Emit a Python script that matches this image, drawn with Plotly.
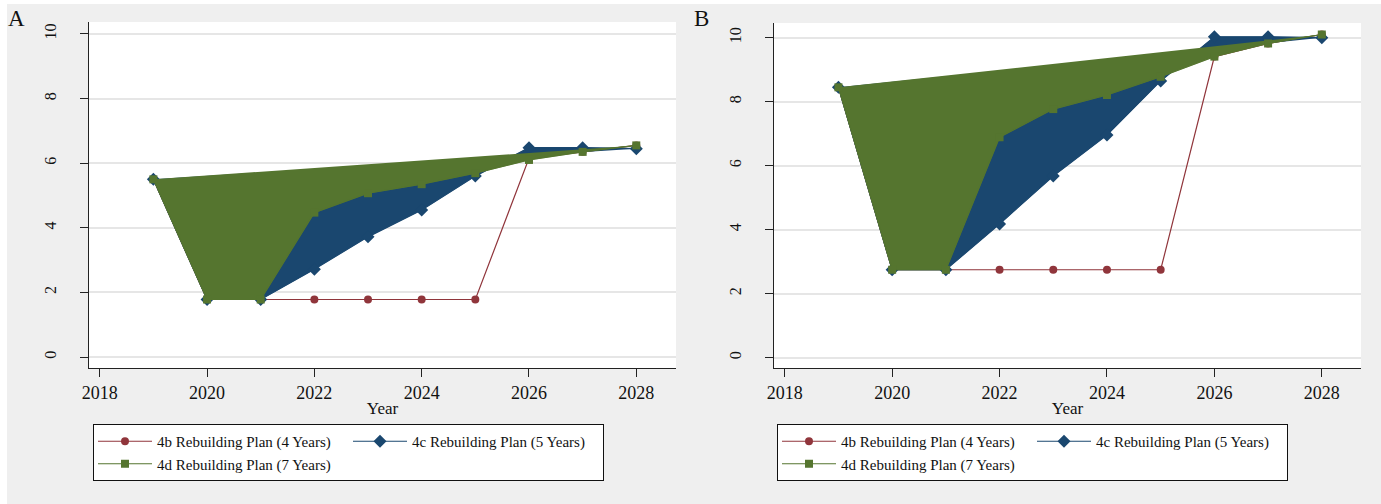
import plotly.graph_objects as go

# Years on the horizontal axis
years = [2019, 2020, 2021, 2022, 2023, 2024, 2025, 2026, 2027, 2028]

# Panel A trajectories
a_plan_4b = [5.5, 1.78, 1.78, 1.78, 1.78, 1.78, 1.78, 6.15, 6.35, 6.55]
a_plan_4c = [5.5, 1.78, 1.78, 2.72, 3.72, 4.55, 5.6, 6.48, 6.48, 6.45]
a_plan_4d = [5.5, 1.78, 1.78, 4.47, 5.07, 5.35, 5.69, 6.1, 6.35, 6.55]

# Panel B trajectories
b_plan_4b = [8.45, 2.75, 2.75, 2.75, 2.75, 2.75, 2.75, 9.41, 9.82, 10.1]
b_plan_4c = [8.45, 2.75, 2.75, 4.18, 5.68, 6.96, 8.65, 10.03, 10.03, 10.0]
b_plan_4d = [8.45, 2.75, 2.75, 6.89, 7.77, 8.21, 8.78, 9.41, 9.82, 10.1]

names = ["4b Rebuilding Plan (4 Years)",
         "4c Rebuilding Plan (5 Years)",
         "4d Rebuilding Plan (7 Years)"]
panel_labels = ["A", "B"]
x_ticks = [2018, 2020, 2022, 2024, 2026, 2028]
y_ticks = [0, 2, 4, 6, 8, 10]

RED = "#90353b"
BLUE = "#1a476f"
GREEN = "#55752f"
BG = "#efefef"
FONT = "Liberation Serif"

W, H = 1381, 504

fig = go.Figure()


def add_panel(xa, ya, legend, s4b, s4c, s4d):
    # 4b: line with circles, no fill
    fig.add_trace(go.Scatter(
        x=years, y=s4b, mode="lines+markers", name=names[0],
        line=dict(color=RED, width=1.2),
        marker=dict(symbol="circle", size=8, color=RED),
        xaxis=xa, yaxis=ya, legend=legend, legendgroup=legend + "c1"))
    # 4c: area closed back to the first point, then line with diamonds
    fig.add_trace(go.Scatter(
        x=years, y=s4c, mode="lines", fill="toself", fillcolor=BLUE,
        line=dict(color=BLUE, width=0.5), showlegend=False,
        hoverinfo="skip", xaxis=xa, yaxis=ya))
    fig.add_trace(go.Scatter(
        x=years, y=s4c, mode="lines+markers", name=names[1],
        line=dict(color=BLUE, width=1.2),
        marker=dict(symbol="diamond", size=10, color=BLUE),
        xaxis=xa, yaxis=ya, legend=legend, legendgroup=legend + "c2"))
    # 4d: area closed back to the first point, then line with squares
    fig.add_trace(go.Scatter(
        x=years, y=s4d, mode="lines", fill="toself", fillcolor=GREEN,
        line=dict(color=GREEN, width=0.5), showlegend=False,
        hoverinfo="skip", xaxis=xa, yaxis=ya))
    fig.add_trace(go.Scatter(
        x=years, y=s4d, mode="lines+markers", name=names[2],
        line=dict(color=GREEN, width=1.2),
        marker=dict(symbol="square", size=8, color=GREEN),
        xaxis=xa, yaxis=ya, legend=legend, legendgroup=legend + "c1"))


add_panel("x", "y", "legend", a_plan_4b, a_plan_4c, a_plan_4d)
add_panel("x2", "y2", "legend2", b_plan_4b, b_plan_4c, b_plan_4d)

xaxis_common = dict(
    tickmode="array", tickvals=x_ticks, ticks="outside", ticklen=8,
    tickcolor="#222", showline=True, linecolor="#222", linewidth=1,
    showgrid=False, zeroline=False, automargin=False,
    tickfont=dict(family=FONT, size=18, color="#111"),
    title=dict(text="Year", font=dict(family=FONT, size=17, color="#111"),
               standoff=0),
)
yaxis_common = dict(
    tickmode="array", tickvals=y_ticks, ticks="outside", ticklen=8,
    tickcolor="#222", showline=True, linecolor="#222", linewidth=1,
    showgrid=True, gridcolor="#e6e6e6", gridwidth=1.5, zeroline=False,
    automargin=False, tickangle=-90, ticklabelstandoff=18,
    tickfont=dict(family=FONT, size=16, color="#111"),
)

legend_common = dict(
    orientation="h", traceorder="grouped", xanchor="left", yanchor="top",
    bgcolor="white", bordercolor="#111", borderwidth=1,
    font=dict(family=FONT, size=15, color="#111"),
    itemwidth=54, entrywidth=186, itemclick=False, itemdoubleclick=False,
)

fig.update_layout(
    width=W, height=H,
    margin=dict(l=0, r=0, t=0, b=0, autoexpand=False),
    paper_bgcolor=BG, plot_bgcolor="white",
    xaxis=dict(domain=[89 / W, 676 / W], range=[2017.8, 2028.74],
               anchor="y", **xaxis_common),
    yaxis=dict(domain=[1 - 368 / H, 1 - 22 / H], range=[-0.34, 10.37],
               anchor="x", **yaxis_common),
    xaxis2=dict(domain=[774 / W, 1361 / W], range=[2017.8, 2028.73],
                anchor="y2", **xaxis_common),
    yaxis2=dict(domain=[1 - 368 / H, 1 - 23 / H], range=[-0.32, 10.46],
                anchor="x2", **yaxis_common),
    legend=dict(x=93 / W, y=1 - 424 / H, **legend_common),
    legend2=dict(x=777 / W, y=1 - 424 / H, **legend_common),
    showlegend=True,
)

# thin white strips along the top and left edges of the canvas
fig.add_shape(type="rect", xref="paper", yref="paper",
              x0=0, x1=1, y0=1 - 4 / H, y1=1,
              fillcolor="white", line_width=0, layer="below")
fig.add_shape(type="rect", xref="paper", yref="paper",
              x0=0, x1=7 / W, y0=0, y1=1,
              fillcolor="white", line_width=0, layer="below")

# panel letters
for label, cx in zip(panel_labels, [16.5, 701]):
    fig.add_annotation(text=label, xref="paper", yref="paper",
                       x=cx / W, y=1 - 4 / H, xanchor="center", yanchor="top",
                       showarrow=False,
                       font=dict(family=FONT, size=23, color="#111"))

fig.write_html("out.html")
